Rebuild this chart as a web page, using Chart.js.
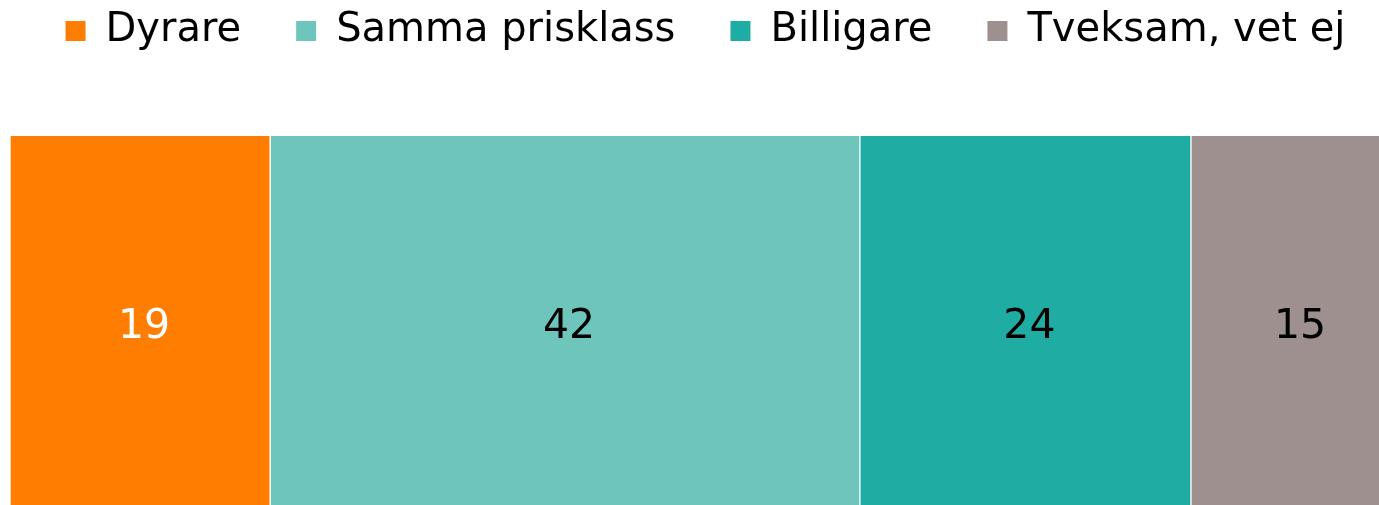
<!DOCTYPE html>
<html>
<head>
<meta charset="utf-8">
<script src="https://cdn.jsdelivr.net/npm/chart.js@4"></script>
<style>
    html, body { margin: 0; padding: 0; background: #fff; overflow: hidden; }
    #wrap { width: 1401px; height: 519px; }
</style>
</head>
<body>
<div id="wrap"><canvas id="chart"></canvas></div>
<script>
const categories = [''];
const seriesNames = ['Dyrare', 'Samma prisklass', 'Billigare', 'Tveksam, vet ej'];
const seriesValues = [18.7, 42.4, 23.8, 15.1];
const seriesColors = ['#FF7D00', '#6DC5BC', '#1FADA3', '#9D908F'];
const labelColors = ['#ffffff', '#000000', '#000000', '#000000'];

const FONT = "'DejaVu Sans', sans-serif";
const LEGEND_SHIFT = 44;

// push the plot area down so the bar starts where the legend block ends
const legendHeight = {
    id: 'legendHeight',
    beforeInit(chart) {
        const fit = chart.legend.fit;
        chart.legend.fit = function () {
            fit.bind(chart.legend)();
            this.height = 136 + LEGEND_SHIFT;
        };
    },
};

const valueLabels = {
    id: 'valueLabels',
    afterDatasetsDraw(chart) {
        const { ctx } = chart;
        ctx.save();
        ctx.font = `41px ${FONT}`;
        ctx.textAlign = 'center';
        ctx.textBaseline = 'middle';
        chart.data.datasets.forEach((ds, i) => {
            const bar = chart.getDatasetMeta(i).data[0];
            const { x, base, y } = bar.getProps(['x', 'base', 'y'], true);
            ctx.fillStyle = labelColors[i];
            ctx.fillText(String(Math.round(ds.data[0])), (x + base) / 2 + 4, y);
        });
        ctx.restore();
    },
};

new Chart(document.getElementById('chart'), {
    type: 'bar',
    data: {
        labels: categories,
        datasets: seriesNames.map((name, i) => ({
            label: name,
            data: [seriesValues[i]],
            backgroundColor: seriesColors[i],
            borderColor: '#ffffff',
            borderWidth: { left: 1, right: 1, top: 0, bottom: 0 },
            borderSkipped: false,
            barPercentage: 1,
            categoryPercentage: 1,
        })),
    },
    options: {
        indexAxis: 'y',
        responsive: true,
        maintainAspectRatio: false,
        animation: false,
        layout: { padding: { left: 10, right: 0, top: -LEGEND_SHIFT, bottom: 0 } },
        scales: {
            x: { stacked: true, min: 0, max: 100, display: false },
            y: { stacked: true, display: false },
        },
        plugins: {
            tooltip: { enabled: false },
            legend: {
                position: 'top',
                labels: {
                    font: { family: FONT, size: 40 },
                    color: '#000000',
                    boxWidth: 20,
                    boxHeight: 20,
                    padding: 55,
                    generateLabels(chart) {
                        return chart.data.datasets.map((ds, i) => ({
                            text: ds.label,
                            fillStyle: ds.backgroundColor,
                            strokeStyle: ds.backgroundColor,
                            lineWidth: 0,
                            datasetIndex: i,
                            hidden: false,
                        }));
                    },
                },
            },
        },
    },
    plugins: [legendHeight, valueLabels],
});
</script>
</body>
</html>
